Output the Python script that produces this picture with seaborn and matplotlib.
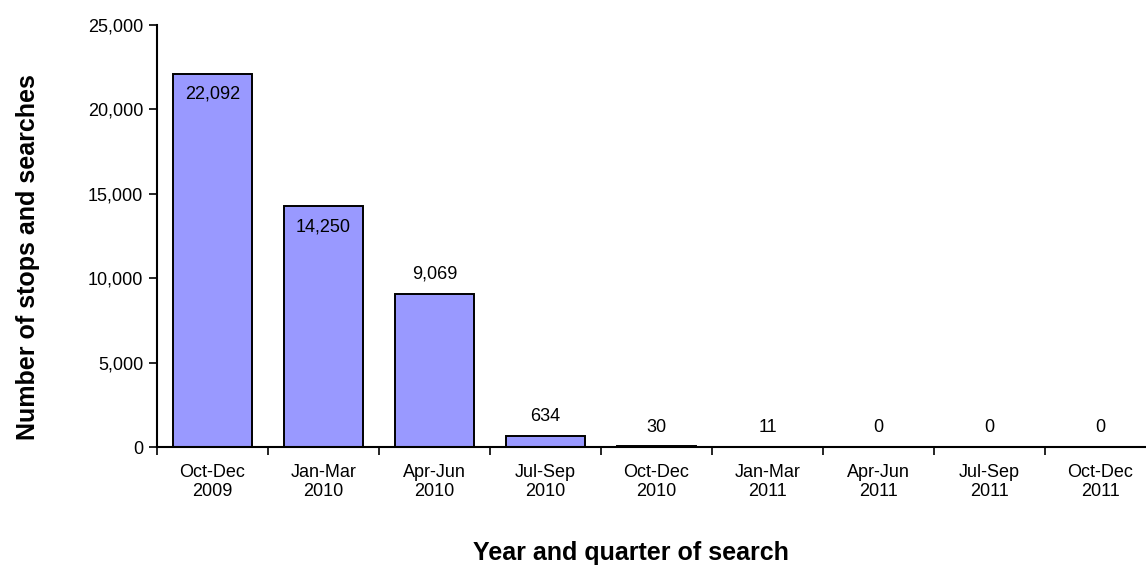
import matplotlib
matplotlib.use("Agg")
import matplotlib.pyplot as plt
import seaborn as sns
import pandas as pd
import numpy as np
from matplotlib.ticker import FuncFormatter, FixedLocator

quarters = ["Oct-Dec\n2009", "Jan-Mar\n2010", "Apr-Jun\n2010", "Jul-Sep\n2010",
            "Oct-Dec\n2010", "Jan-Mar\n2011", "Apr-Jun\n2011", "Jul-Sep\n2011",
            "Oct-Dec\n2011"]
searches = [22092, 14250, 9069, 634, 30, 11, 0, 0, 0]
y_ticks = [0, 5000, 10000, 15000, 20000, 25000]

sns.set_theme(style="ticks", rc={"text.color": "black", "axes.labelcolor": "black",
                                 "xtick.color": "black", "ytick.color": "black",
                                 "axes.edgecolor": "black"})
plt.rcParams['font.family'] = ['Liberation Sans', 'DejaVu Sans']

df = pd.DataFrame({"quarter": quarters, "n": searches})

fig = plt.figure(figsize=(11.46, 5.66), dpi=100)
W, H = 1146, 566
ax = fig.add_axes([157 / W, 1 - 447 / H, 999 / W, (447 - 25) / H])

sns.barplot(data=df, x="quarter", y="n", color="#9999FF", edgecolor="black",
            linewidth=1.4, width=0.72, saturation=1, ax=ax)

ax.set_ylim(0, 25000)
ax.set_xlim(-0.5, len(quarters) - 0.5)
ax.set_yticks(y_ticks)
ax.yaxis.set_major_formatter(FuncFormatter(lambda v, p: f"{int(v):,}"))
ax.tick_params(axis="y", labelsize=13, length=6, width=1.2, direction="out", pad=4)
ax.tick_params(axis="x", which="major", labelsize=13, length=0, pad=12)
ax.xaxis.set_minor_locator(FixedLocator(np.arange(-0.5, len(quarters), 1.0)))
ax.tick_params(axis="x", which="minor", length=6, width=1.2, direction="out")

for s in ["top", "right"]:
    ax.spines[s].set_visible(False)
for s in ["left", "bottom"]:
    ax.spines[s].set_linewidth(1.5)

for i, v in enumerate(searches):
    if v > 12000:
        ax.text(i, v - 700, f"{v:,}", ha="center", va="top", fontsize=13)
    else:
        ax.text(i, v + 650, f"{v:,}", ha="center", va="bottom", fontsize=13)

ax.set_xlabel("Year and quarter of search", fontsize=18, fontweight="bold")
ax.set_ylabel("Number of stops and searches", fontsize=18, fontweight="bold")
ax.xaxis.set_label_coords((631 - 157) / 999, -(553 - 447) / 422)
ax.yaxis.set_label_coords(-(157 - 28) / 999, (447 - 257) / 422)
ax.xaxis.label.set_va("center")
ax.yaxis.label.set_va("center")

fig.savefig("out.png", dpi=100)
